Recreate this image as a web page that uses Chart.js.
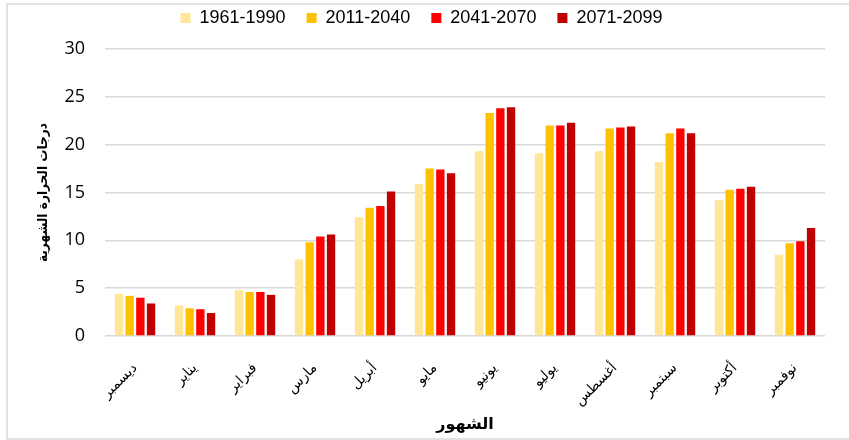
<!DOCTYPE html>
<html>
<head>
<meta charset="utf-8">
<script src="https://cdn.jsdelivr.net/npm/chart.js@4.4.1/dist/chart.umd.min.js"></script>
<style>
  html, body { margin: 0; padding: 0; background: #fff; }
  #wrap { position: relative; width: 849px; height: 440px; }
</style>
</head>
<body>
<div id="wrap"><canvas id="c" width="849" height="440"></canvas></div>
<script>
const months = ['ديسمبر','يناير','فبراير','مارس','أبريل','مايو','يونيو','يوليو','أغسطس','سبتمبر','أكتوبر','نوفمبر'];
const seriesNames = ['1961-1990','2011-2040','2041-2070','2071-2099'];
const s1961 = [4.4, 3.2, 4.8, 8.0, 12.4, 15.9, 19.3, 19.1, 19.3, 18.2, 14.2, 8.5];
const s2011 = [4.2, 2.9, 4.6, 9.8, 13.4, 17.5, 23.3, 22.0, 21.7, 21.2, 15.3, 9.7];
const s2041 = [4.0, 2.8, 4.6, 10.4, 13.6, 17.4, 23.8, 22.0, 21.8, 21.7, 15.4, 9.9];
const s2071 = [3.4, 2.4, 4.3, 10.6, 15.1, 17.0, 23.9, 22.3, 21.9, 21.2, 15.6, 11.3];
const yTicks = [0, 5, 10, 15, 20, 25, 30];
const yTitle = 'درجات الحرارة الشهرية';
const xTitle = 'الشهور';
const colors = ['#FFE699', '#FFC000', '#FF0000', '#C00000'];

const allSeries = [s1961, s2011, s2041, s2071];

const frame = {
  id: 'frame',
  beforeDraw(chart) {
    const ctx = chart.ctx;
    ctx.save();
    ctx.fillStyle = '#fff';
    ctx.fillRect(0, 0, chart.width, chart.height);
    ctx.strokeStyle = '#D9D9D9';
    ctx.lineWidth = 1.5;
    ctx.beginPath();
    ctx.moveTo(chart.width + 5, 4);
    ctx.lineTo(7, 4);
    ctx.lineTo(7, 439);
    ctx.lineTo(chart.width + 5, 439);
    ctx.stroke();
    ctx.restore();
  }
};

const chart = new Chart(document.getElementById('c'), {
  type: 'bar',
  data: {
    labels: months,
    datasets: allSeries.map((d, i) => ({
      label: seriesNames[i],
      data: d,
      backgroundColor: colors[i],
      borderWidth: 0,
      barPercentage: 0.78,
      categoryPercentage: 0.713
    }))
  },
  options: {
    responsive: false,
    animation: false,
    layout: { padding: { left: 0, right: 24, top: -12, bottom: 0 } },
    plugins: {
      legend: {
        position: 'top',
        labels: {
          boxWidth: 10,
          boxHeight: 10,
          padding: 21,
          color: '#000',
          font: { family: 'Liberation Sans, Arial, sans-serif', size: 18 }
        }
      },
      tooltip: { enabled: false }
    },
    scales: {
      x: {
        grid: { display: false, drawTicks: false },
        border: { display: false },
        ticks: {
          color: '#000',
          maxRotation: 45,
          minRotation: 45,
          padding: 24,
          font: { family: 'DejaVu Sans, sans-serif', size: 14 }
        },
        title: {
          display: true,
          text: xTitle,
          color: '#000',
          padding: { top: 0, bottom: 6 },
          font: { family: 'DejaVu Sans, sans-serif', size: 16, weight: 'bold' }
        },
        afterFit(scale) { scale.height = 104; }
      },
      y: {
        min: 0,
        max: 30,
        afterBuildTicks(scale) { scale.ticks = yTicks.map(v => ({ value: v })); },
        grid: { color: '#D9D9D9', lineWidth: 1.5, drawTicks: false },
        border: { display: false },
        ticks: {
          color: '#000',
          padding: 20,
          font: { family: 'Open Sans, sans-serif', size: 18 }
        },
        title: {
          display: true,
          text: yTitle,
          color: '#000',
          padding: { top: 35, bottom: 0 },
          font: { family: 'DejaVu Sans Condensed, DejaVu Sans, sans-serif', size: 13.5, weight: 'bold' }
        },
        afterFit(scale) { scale.width = 105; }
      }
    }
  },
  plugins: [frame]
});

// Keep the legend at the very top while leaving the Excel-like gap above the plot,
// and nudge the legend row slightly right to match the reference centring.
const legendFit = chart.legend.fit;
chart.legend.fit = function () { legendFit.call(this); this.height += 12; };
const legendDraw = chart.legend.draw;
chart.legend.draw = function () {
  const ctx = this.ctx;
  ctx.save();
  ctx.translate(9, 0);
  legendDraw.call(this);
  ctx.restore();
};
chart.update();
</script>
</body>
</html>
